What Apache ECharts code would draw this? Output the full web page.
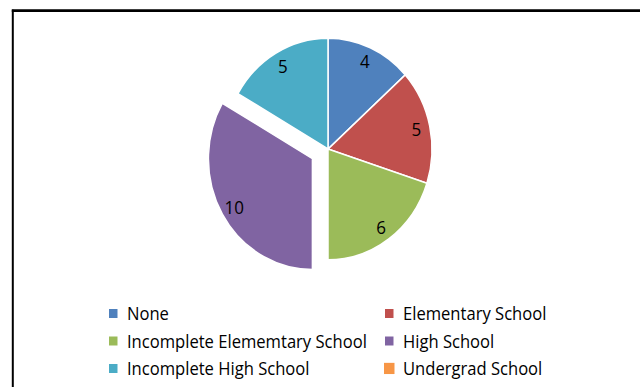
<!DOCTYPE html>
<html>
<head>
<meta charset="utf-8">
<script src="https://cdn.jsdelivr.net/npm/echarts@6/dist/echarts.min.js"></script>
<style>
  html, body { margin: 0; padding: 0; background: #fff; overflow: hidden; }
  #wrap { width: 640px; height: 387px; overflow: hidden; }
  /* chart is laid out at 363px and stretched to the full 387px height */
  #chart { width: 640px; height: 363px; transform: scaleY(1.0661); transform-origin: 0 0; }
</style>
</head>
<body>
<div id="wrap"><div id="chart"></div></div>
<script>
// Education level counts
const categories = ['None', 'Elementary School', 'Incomplete Elememtary School', 'High School', 'Incomplete High School', 'Undergrad School'];
const counts = [4, 5, 6, 10, 5, 0];
const colors = ['#4F81BD', '#C0504D', '#9BBB59', '#8064A2', '#4BACC6', '#F79646'];
const explodedCategory = 'High School';
// legend split into two columns
const legendLeftColumn = ['None', 'Incomplete Elememtary School', 'Incomplete High School'];
const legendRightColumn = ['Elementary School', 'High School', 'Undergrad School'];

const FONT = '"Open Sans", "Liberation Sans", sans-serif';
const center = [328, 139.8];
const radius = 104;
const explodeOffset = 18;

const sliceData = categories.map((name, i) => ({
  name: name,
  value: counts[i],
  selected: name === explodedCategory,
  itemStyle: { color: colors[i], borderWidth: counts[i] === 0 ? 0 : 1.5 }
}));

const labelData = categories.map((name, i) => ({
  name: name,
  value: counts[i],
  selected: name === explodedCategory
}));

const legendBase = {
  orient: 'vertical',
  top: 285,
  padding: 0,
  itemWidth: 10.5,
  itemHeight: 10.5,
  itemGap: 7.8,
  icon: 'rect',
  selectedMode: false,
  textStyle: { fontFamily: FONT, fontSize: 16.6, color: '#000', lineHeight: 18, padding: [0, 0, 0, 3.5] }
};

const chart = echarts.init(document.getElementById('chart'), null, { renderer: 'svg' });
chart.setOption({
  animation: false,
  backgroundColor: '#fff',
  legend: [
    Object.assign({}, legendBase, { left: 107, data: legendLeftColumn }),
    Object.assign({}, legendBase, { left: 383, data: legendRightColumn })
  ],
  graphic: [
    { type: 'line', shape: { x1: 12.8, y1: 9.2, x2: 12.8, y2: 420 }, style: { stroke: '#000', lineWidth: 2 }, silent: true },
    { type: 'line', shape: { x1: 11.8, y1: 9.9, x2: 700, y2: 9.9 }, style: { stroke: '#000', lineWidth: 2.6 }, silent: true }
  ],
  series: [
    {
      type: 'pie',
      center: center,
      radius: radius,
      startAngle: 90,
      clockwise: true,
      selectedMode: 'single',
      selectedOffset: explodeOffset,
      avoidLabelOverlap: false,
      label: { show: false },
      labelLine: { show: false },
      itemStyle: { borderColor: '#fff' },
      emphasis: { disabled: true },
      select: { disabled: false, itemStyle: { borderColor: '#fff' } },
      silent: true,
      data: sliceData
    },
    {
      // transparent ring carrying the value labels near the rim
      type: 'pie',
      center: center,
      radius: [radius * 0.74, radius * 0.94],
      startAngle: 90,
      clockwise: true,
      selectedMode: 'single',
      selectedOffset: explodeOffset,
      avoidLabelOverlap: false,
      minShowLabelAngle: 1,
      silent: true,
      itemStyle: { color: 'rgba(0,0,0,0)', borderWidth: 0 },
      emphasis: { disabled: true },
      select: { itemStyle: { color: 'rgba(0,0,0,0)', borderWidth: 0 } },
      label: {
        show: true,
        position: 'inside',
        formatter: '{c}',
        fontFamily: FONT,
        fontSize: 17,
        color: '#000'
      },
      labelLine: { show: false },
      data: labelData
    }
  ]
});
</script>
</body>
</html>
